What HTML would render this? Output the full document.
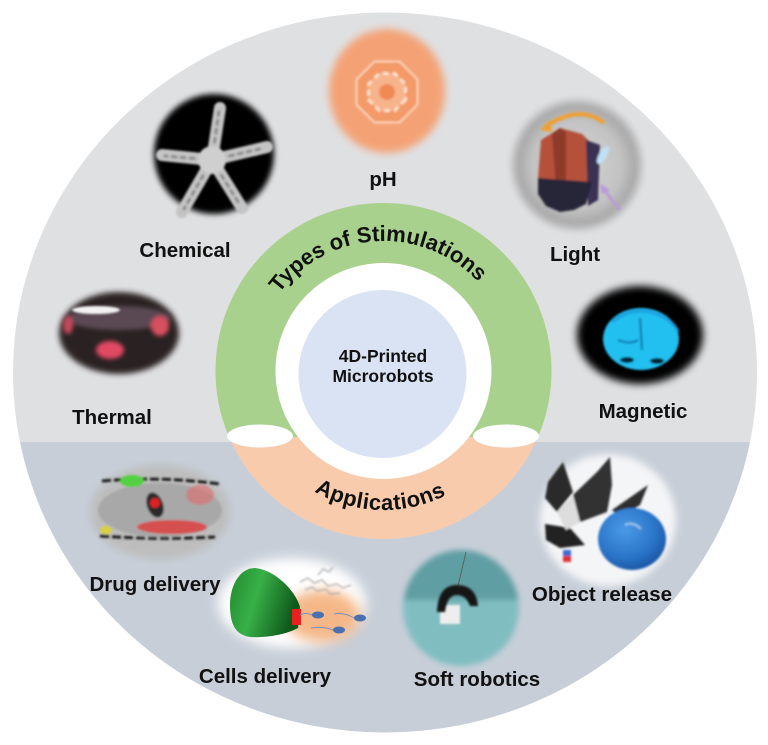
<!DOCTYPE html>
<html><head><meta charset="utf-8"><style>
html,body{margin:0;padding:0;background:#fff;}
svg{display:block;}
text{font-family:"Liberation Sans",Arial,sans-serif;font-weight:bold;fill:#111;}
</style></head><body>
<svg width="768" height="745" viewBox="0 0 768 745" xmlns="http://www.w3.org/2000/svg">
<defs>
<clipPath id="big"><ellipse cx="385" cy="372.5" rx="372" ry="360"/></clipPath>
<clipPath id="topc"><rect x="0" y="0" width="768" height="437"/></clipPath>
<clipPath id="softc"><circle cx="461" cy="608" r="58"/></clipPath>
<filter id="b1" x="-50%" y="-50%" width="200%" height="200%"><feGaussianBlur stdDeviation="1"/></filter>
<filter id="b2" x="-50%" y="-50%" width="200%" height="200%"><feGaussianBlur stdDeviation="2"/></filter>
<filter id="b3" x="-50%" y="-50%" width="200%" height="200%"><feGaussianBlur stdDeviation="3"/></filter>
<filter id="b4" x="-50%" y="-50%" width="200%" height="200%"><feGaussianBlur stdDeviation="4"/></filter>
<filter id="b6" x="-50%" y="-50%" width="200%" height="200%"><feGaussianBlur stdDeviation="6"/></filter>
<radialGradient id="gLight" cx="50%" cy="50%" r="50%">
<stop offset="0%" stop-color="#d6d6d6"/>
<stop offset="65%" stop-color="#c2c2c2"/>
<stop offset="85%" stop-color="#a9a9a9"/>
<stop offset="100%" stop-color="#dfe0e2"/>
</radialGradient>
<radialGradient id="gBall" cx="40%" cy="35%" r="65%">
<stop offset="0%" stop-color="#4a9ae6"/>
<stop offset="70%" stop-color="#2a74c8"/>
<stop offset="100%" stop-color="#1d5aa8"/>
</radialGradient>
<linearGradient id="gCone" x1="0" y1="0" x2="1" y2="0.3">
<stop offset="0%" stop-color="#1f8a2e"/>
<stop offset="45%" stop-color="#38b048"/>
<stop offset="100%" stop-color="#0f5a1a"/>
</linearGradient>
<path id="arcTop" d="M 253.5 371 A 130 130 0 0 1 513.5 371"/>
<path id="arcBot" d="M 244.5 371 A 139 139 0 0 0 522.5 371"/>
</defs>

<!-- big background disc -->
<g clip-path="url(#big)">
<rect x="0" y="0" width="768" height="442" fill="#dfe0e2"/>
<rect x="0" y="442" width="768" height="303" fill="#c7ced8"/>
</g>

<!-- center ring -->
<circle cx="383.5" cy="371" r="168" fill="#f8cbad"/>
<circle cx="383.5" cy="371" r="168" fill="#a9d18e" clip-path="url(#topc)"/>
<circle cx="383.5" cy="371" r="108" fill="#ffffff"/>
<circle cx="382.5" cy="374" r="84" fill="#dae3f3"/>
<ellipse cx="260" cy="436" rx="33" ry="11.5" fill="#ffffff"/>
<ellipse cx="506" cy="436" rx="33" ry="11.5" fill="#ffffff"/>

<text font-size="22"><textPath href="#arcTop" startOffset="48.2%" text-anchor="middle">Types of Stimulations</textPath></text>
<text font-size="22" letter-spacing="0.5"><textPath href="#arcBot" startOffset="49.2%" text-anchor="middle">Applications</textPath></text>

<text x="383" y="362" font-size="17.5" text-anchor="middle">4D-Printed</text>
<text x="383" y="382" font-size="17.5" text-anchor="middle">Microrobots</text>

<!-- pH image -->
<ellipse cx="387" cy="91" rx="58" ry="62" fill="#f4a274" filter="url(#b4)"/>
<g filter="url(#b1)">
<polygon points="417.5,104.6 399.6,122.5 374.4,122.5 356.5,104.6 356.5,79.4 374.4,61.5 399.6,61.5 417.5,79.4" fill="#f39a68" stroke="#fbd3b5" stroke-width="2"/>
<polygon points="405.5,99.7 394.7,110.5 379.3,110.5 368.5,99.7 368.5,84.3 379.3,73.5 394.7,73.5 405.5,84.3" fill="#f7b48c" stroke="#fde0cc" stroke-width="3" stroke-dasharray="6 4"/>
<circle cx="387" cy="92" r="8" fill="#f08a55"/>
</g>

<!-- Chemical image -->
<circle cx="214" cy="154" r="60" fill="#050505" filter="url(#b3)"/>
<g filter="url(#b1)" stroke-linecap="round">
<g stroke="#c4c4c4" stroke-width="12">
<line x1="212" y1="160" x2="220" y2="108"/>
<line x1="212" y1="160" x2="267" y2="147"/>
<line x1="212" y1="160" x2="242" y2="208"/>
<line x1="212" y1="160" x2="182" y2="212"/>
<line x1="212" y1="160" x2="162" y2="155"/>
</g>
<g stroke="#8a8a8a" stroke-width="3" stroke-dasharray="4 5">
<line x1="212" y1="160" x2="219" y2="111"/>
<line x1="212" y1="160" x2="264" y2="148"/>
<line x1="212" y1="160" x2="240" y2="205"/>
<line x1="212" y1="160" x2="184" y2="209"/>
<line x1="212" y1="160" x2="165" y2="156"/>
</g>
<circle cx="212" cy="160" r="14" fill="#cfcfcf"/>
</g>

<!-- Light image -->
<circle cx="577" cy="165" r="69" fill="url(#gLight)" filter="url(#b2)"/>
<g filter="url(#b1)">
<polygon points="541,140 560,128 582,134 590,142 592,185 545,190 538,178" fill="#b5513b"/>
<polygon points="552,134 560,128 566,132 566,186 556,188" fill="#8f3a2a"/>
<polygon points="586,140 600,145 598,200 588,206" fill="#3a3352"/>
<polygon points="538,178 592,182 586,204 574,210 560,212 546,206 538,194" fill="#262638"/>
<path d="M 604 123 Q 580 104 546 126" fill="none" stroke="#f0a030" stroke-width="4"/>
<polygon points="540,130 550,120 552,132" fill="#f0a030"/>
<line x1="620" y1="210" x2="604" y2="190" stroke="#b89ad8" stroke-width="3"/>
<polygon points="600,184 610,190 602,194" fill="#b89ad8"/>
<ellipse cx="603" cy="155" rx="4" ry="10" fill="#bfe0f5" transform="rotate(30 603 155)"/>
</g>

<!-- Magnetic image -->
<ellipse cx="640" cy="335" rx="63" ry="49" fill="#000" filter="url(#b4)"/>
<g filter="url(#b1)">
<ellipse cx="641" cy="339" rx="38" ry="31" fill="#22c0f0"/>
<path d="M 612 322 Q 630 308 650 312 Q 672 318 678 332" fill="none" stroke="#1aa0e0" stroke-width="3"/>
<ellipse cx="627" cy="360" rx="7" ry="3" fill="#04202e"/>
<ellipse cx="657" cy="361" rx="7" ry="3" fill="#04202e"/>
<path d="M 640 318 L 642 350" stroke="#0a6fa8" stroke-width="2"/>
<path d="M 618 340 Q 630 345 638 340" fill="none" stroke="#0a6fa8" stroke-width="2"/>
</g>

<!-- Thermal image -->
<ellipse cx="119" cy="333" rx="60" ry="41" fill="#2c2024" filter="url(#b3)"/>
<g filter="url(#b2)">
<ellipse cx="119" cy="318" rx="52" ry="12" fill="#5a4a52"/>
<ellipse cx="110" cy="350" rx="14" ry="9" fill="#e04a62"/>
<ellipse cx="160" cy="326" rx="9" ry="10" fill="#d8505e"/>
<ellipse cx="68" cy="325" rx="5" ry="9" fill="#c44a5c"/>
</g>
<ellipse cx="96" cy="310" rx="24" ry="4" fill="#f2f2f2" filter="url(#b1)"/>

<!-- Drug delivery image -->
<ellipse cx="160" cy="512" rx="70" ry="47" fill="#bdbdbd" filter="url(#b4)"/>
<g filter="url(#b1)">
<ellipse cx="160" cy="510" rx="62" ry="27" fill="#a8a8a8"/>
<path d="M 102 481 Q 160 476 220 484" fill="none" stroke="#1a1a1a" stroke-width="3" stroke-dasharray="9 3"/>
<path d="M 100 536 Q 160 540 215 537" fill="none" stroke="#1a1a1a" stroke-width="3" stroke-dasharray="9 3"/>
<ellipse cx="172" cy="527" rx="35" ry="7" fill="#e03a3a" opacity="0.8"/>
<ellipse cx="200" cy="495" rx="14" ry="10" fill="#e06a6a" opacity="0.6"/>
<ellipse cx="132" cy="481" rx="12" ry="6" fill="#52d040"/>
<ellipse cx="106" cy="530" rx="6" ry="4" fill="#d8d040"/>
<ellipse cx="155" cy="505" rx="8" ry="13" fill="#2a2a2a" transform="rotate(-20 155 505)"/>
<circle cx="155" cy="503" r="5" fill="#e02020"/>
</g>

<!-- Cells delivery image -->
<ellipse cx="292" cy="603" rx="74" ry="45" fill="#ffffff" filter="url(#b6)"/>
<ellipse cx="322" cy="616" rx="38" ry="26" fill="#f2a060" opacity="0.75" filter="url(#b6)"/>
<g stroke="#9a9a9a" stroke-width="1" fill="none" filter="url(#b1)">
<path d="M 300 582 l 8 -4 l 6 5 l 8 -3 l 6 6 l 9 -2 l 6 4 l 8 -3"/>
<path d="M 305 590 l 7 -3 l 5 4 l 9 -2 l 4 5 l 10 -1"/>
<path d="M 318 575 l 5 -6 l 6 3 l 4 -5"/>
</g>
<path d="M 255 568 C 275 570 295 590 300 607 L 298 628 C 285 635 265 638 250 637 C 236 635 230 625 230 605 C 230 585 240 568 255 568 Z" fill="url(#gCone)"/>
<rect x="292" y="609" width="9" height="16" fill="#e82020"/>
<g fill="#4a70b0">
<ellipse cx="318" cy="615" rx="6" ry="3.5"/>
<ellipse cx="339" cy="630" rx="6" ry="3.5"/>
<ellipse cx="360" cy="618" rx="6" ry="3.5"/>
</g>
<g stroke="#7a90c0" stroke-width="1" fill="none">
<path d="M 312 615 q -6 -3 -12 0"/>
<path d="M 333 630 q -10 -4 -22 -2"/>
<path d="M 354 618 q -10 -6 -20 -4"/>
</g>

<!-- Soft robotics image -->
<g filter="url(#b3)">
<g clip-path="url(#softc)">
<rect x="400" y="548" width="125" height="53" fill="#5f9ea3"/>
<rect x="400" y="600" width="125" height="70" fill="#80bdc1"/>
</g>
</g>
<line x1="466" y1="552" x2="458" y2="586" stroke="#555" stroke-width="0.8"/>
<rect x="440" y="605" width="20" height="19" fill="#eeeeee" filter="url(#b1)"/>
<path d="M 437 612 Q 438 585 457 585 Q 476 585 478 606 L 470 606 Q 466 595 457 595 Q 447 595 445 612 Z" fill="#151515" filter="url(#b1)"/>

<!-- Object release image -->
<ellipse cx="608" cy="520" rx="68" ry="66" fill="#f4f5f7" filter="url(#b4)"/>
<g filter="url(#b1)">
<polygon points="548,482 563,462 573,492 557,512 545,498" fill="#2a2a2a"/>
<polygon points="573,495 597,472 610,457 612,485 607,512 580,522" fill="#303030"/>
<polygon points="612,510 648,485 640,505 620,517" fill="#2e2e2e"/>
<polygon points="545,524 570,528 585,545 560,548 546,540" fill="#222"/>
<polygon points="557,512 573,495 580,522 566,530" fill="#ddd"/>
<ellipse cx="632" cy="539" rx="34" ry="31" fill="url(#gBall)"/>
<path d="M 625 525 q 8 -4 16 4" stroke="#9cc8f0" stroke-width="2" fill="none"/>
<rect x="563" y="550" width="8" height="6" fill="#3a6ad0"/>
<rect x="563" y="556" width="8" height="6" fill="#e03030"/>
</g>

<!-- Labels -->
<text x="383" y="186" font-size="20.5" text-anchor="middle">pH</text>
<text x="185" y="257" font-size="20.5" text-anchor="middle">Chemical</text>
<text x="575" y="261" font-size="20.5" text-anchor="middle">Light</text>
<text x="112" y="424" font-size="20.5" text-anchor="middle">Thermal</text>
<text x="643" y="418" font-size="20.5" text-anchor="middle">Magnetic</text>
<text x="155" y="591" font-size="20.5" text-anchor="middle">Drug delivery</text>
<text x="265" y="683" font-size="20.5" text-anchor="middle">Cells delivery</text>
<text x="477" y="686" font-size="20.5" text-anchor="middle">Soft robotics</text>
<text x="602" y="601" font-size="20.5" text-anchor="middle">Object release</text>
</svg>
</body></html>
